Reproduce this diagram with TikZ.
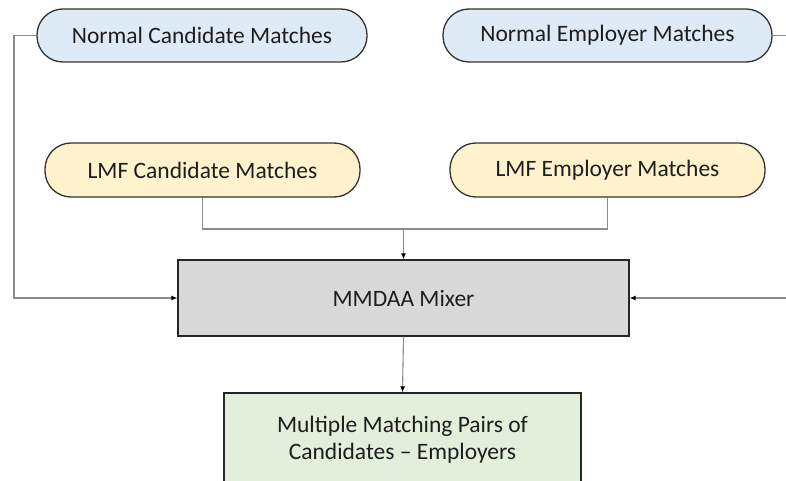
\documentclass[tikz,border=0pt]{standalone}
\usepackage{fontspec}
\setmainfont{Carlito}
\usetikzlibrary{arrows.meta}
\definecolor{blueF}{HTML}{DEEBF7}
\definecolor{yellowF}{HTML}{FFF2CC}
\definecolor{grayF}{HTML}{D9D9D9}
\definecolor{greenF}{HTML}{E2EFDA}
\definecolor{lineC}{HTML}{8C8C8C}
\definecolor{textC}{HTML}{1E1E1E}
\begin{document}
\begin{tikzpicture}[x=1pt,y=-1pt,
  font=\fontsize{23.5}{28}\selectfont,
  pill/.style={draw=black!80, line width=1.3pt, rounded corners=26pt, minimum height=53pt, text=textC, inner sep=0pt},
  boxx/.style={draw=black!85, line width=1.3pt, text=textC, align=center, inner sep=0pt},
  conn/.style={draw=lineC, line width=1.1pt},
  arr/.style={conn, -{Latex[length=6pt,width=5pt,fill=black,color=black]}}
]
\useasboundingbox (0,0) rectangle (786,481);
\clip (0,0) rectangle (786,481);
\fill[white] (0,0) rectangle (786,481);

\node[pill, fill=blueF, minimum width=330pt] (nc) at (202,35.5) {Normal Candidate Matches};
\node[pill, fill=blueF, minimum width=329pt] (ne) at (607.5,35.5) {Normal Employer Matches};
\node[pill, fill=yellowF, minimum width=315pt, minimum height=54pt] (lc) at (202.5,170) {LMF Candidate Matches};
\node[pill, fill=yellowF, minimum width=315pt, minimum height=54pt] (le) at (607.5,170) {LMF Employer Matches};
\node[boxx, fill=grayF, minimum width=451pt, minimum height=76pt] (mix) at (403.5,298) {MMDAA Mixer};
\node[boxx, fill=greenF, minimum width=357pt, minimum height=94pt] (out) at (402.5,440) {Multiple Matching Pairs of\\[-1pt]Candidates -- Employers};

\coordinate (jn) at (403.5,229);
\coordinate (lcorner) at (14,35.5);
\coordinate (rtop) at (792,35.5);
\coordinate (rbot) at (792,298);

\draw[conn] (lc.south) |- (jn) -| (le.south);
\draw[arr] (jn) -- (mix.north);
\draw[arr] (nc.west) -- (lcorner) |- (mix.west);
\draw[conn] (ne.east) -- (rtop);
\draw[arr] (rbot) -- (mix.east);
\draw[arr] (mix.south) -- (out.north);
\end{tikzpicture}
\end{document}
